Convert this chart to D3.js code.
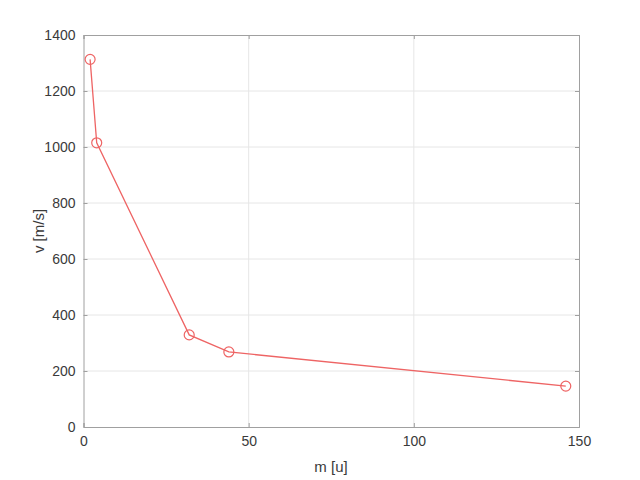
<!DOCTYPE html>
<html><head><meta charset="utf-8">
<script src="https://cdn.jsdelivr.net/npm/d3@7"></script>
<style>body{margin:0;background:#fff;}svg{display:block;}text{font-family:"Liberation Sans",Arial,sans-serif;}</style>
</head><body>
<script>
const masses = [2, 4, 32, 44, 146];
const speeds = [1313, 1015, 329, 268, 146];
const xTicks = [0, 50, 100, 150];
const yTicks = [0, 200, 400, 600, 800, 1000, 1200, 1400];
const xLabel = "m [u]";
const yLabel = "v [m/s]";

const W = 640, H = 480;
const m = {left: 83.5, top: 35, right: 61, bottom: 53};
const svg = d3.select("body").append("svg").attr("width", W).attr("height", H);
const x = d3.scaleLinear().domain([0,150]).range([m.left, W - m.right]);
const y = d3.scaleLinear().domain([0,1400]).range([H - m.bottom, m.top]);

const g = svg.append("g");
g.selectAll(".gx").data(xTicks.slice(1,-1)).enter().append("line")
  .attr("x1", d=>x(d)).attr("x2", d=>x(d)).attr("y1", y(0)).attr("y2", y(1400))
  .attr("stroke","#e6e6e6").attr("stroke-width",1);
g.selectAll(".gy").data(yTicks.slice(1,-1)).enter().append("line")
  .attr("y1", d=>y(d)).attr("y2", d=>y(d)).attr("x1", x(0)).attr("x2", x(150))
  .attr("stroke","#e6e6e6").attr("stroke-width",1);

const fmt = d3.format("d");
const ax = d3.axisBottom(x).tickValues(xTicks).tickFormat(fmt).tickSize(-4).tickPadding(9);
const ay = d3.axisLeft(y).tickValues(yTicks).tickFormat(fmt).tickSize(-4).tickPadding(8);
function style(sel){
  sel.select(".domain").attr("stroke","#a0a0a0");
  sel.selectAll(".tick line").attr("stroke","#a0a0a0");
  sel.selectAll(".tick text").attr("fill","#3a3a3a").style("font-size","14px").style("font-family","'Liberation Sans',Arial,sans-serif");
}
svg.append("g").attr("transform",`translate(0,${y(0)})`).call(ax).call(style);
svg.append("g").attr("transform",`translate(${x(0)},0)`).call(ay).call(style);
const axT = d3.axisTop(x).tickValues(xTicks).tickSize(-4).tickFormat("");
const ayR = d3.axisRight(y).tickValues(yTicks).tickSize(-4).tickFormat("");
svg.append("g").attr("transform",`translate(0,${y(1400)})`).call(axT).call(style);
svg.append("g").attr("transform",`translate(${x(150)},0)`).call(ayR).call(style);

const data = masses.map((d,i)=>({m:d, v:speeds[i]}));
const col = "#ee6464";
svg.append("path").datum(data).attr("fill","none").attr("stroke",col).attr("stroke-width",1.3)
  .attr("d", d3.line().x(d=>x(d.m)).y(d=>y(d.v)));
svg.selectAll(".pt").data(data).enter().append("circle")
  .attr("cx", d=>x(d.m)).attr("cy", d=>y(d.v)).attr("r",5)
  .attr("fill","none").attr("stroke",col).attr("stroke-width",1.2);

svg.append("text").attr("x", 331).attr("y", 472).attr("text-anchor","middle")
  .attr("fill","#3a3a3a").style("font-size","15px").text(xLabel);
svg.append("text").attr("transform",`translate(44,${(y(0)+y(1400))/2}) rotate(-90)`).attr("text-anchor","middle")
  .attr("fill","#3a3a3a").style("font-size","15px").text(yLabel);
</script>
</body></html>
